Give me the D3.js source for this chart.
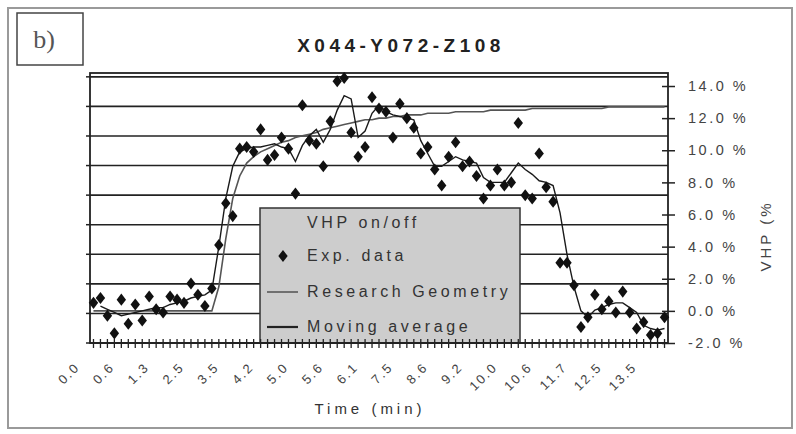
<!DOCTYPE html>
<html>
<head>
<meta charset="utf-8">
<script src="https://cdn.jsdelivr.net/npm/d3@7"></script>
<style>
  body { margin: 0; background: #fff; }
  svg { display: block; font-family: "Liberation Sans", Arial, sans-serif; }
</style>
</head>
<body>
<div id="chart"></div>
<script>
// data, one value per time step (category)
const expData = [0.5, 0.8, -0.3, -1.4, 0.7, -0.8, 0.4, -0.6, 0.9, 0.1,
  -0.1, 0.9, 0.7, 0.5, 1.7, 1.0, 0.3, 1.4, 4.1, 6.7,
  5.9, 10.1, 10.2, 9.9, 11.3, 9.4, 9.7, 10.8, 10.1, 7.3,
  12.8, 10.6, 10.4, 9.0, 11.8, 14.3, 14.5, 11.1, 9.6, 10.2,
  13.3, 12.6, 12.4, 10.8, 12.9, 12.0, 11.4, 9.8, 10.2, 8.8,
  7.8, 9.6, 10.5, 9.0, 9.3, 8.4, 7.0, 7.8, 8.8, 7.8,
  8.0, 11.7, 7.2, 7.0, 9.8, 7.7, 6.8, 3.0, 3.0, 1.6,
  -1.0, -0.4, 1.0, 0.1, 0.6, -0.1, 1.2, -0.1, -1.1, -0.7,
  -1.5, -1.4, -0.4];

const movingAvg = [null, 0.3, 0.1, -0.1, -0.3, -0.2, -0.1, 0.0, 0.1, 0.2,
  0.2, 0.4, 0.5, 0.6, 0.8, 0.9, 1.0, 1.3, 4.0, 7.0,
  9.0, 9.9, 10.1, 10.2, 10.2, 10.3, 10.4, 10.2, 10.1, 9.3,
  10.3, 10.9, 11.3, 10.5, 11.3, 12.5, 13.4, 13.2, 10.8, 11.2,
  12.3, 12.8, 12.4, 12.2, 12.1, 12.0, 11.9, 10.6, 9.8, 9.0,
  9.0, 9.3, 9.6, 9.4, 9.3, 9.2, 8.3, 8.0, 8.0, 8.0,
  8.6, 9.2, 8.8, 8.5, 8.1, 8.0, 7.8, 6.1, 3.5, 1.5,
  0.0, -0.4, 0.05, 0.2, 0.4, 0.5, 0.5, 0.2, -0.1, -0.9,
  -1.1, -1.2, -1.1];

const researchGeom = [0, 0, 0, 0, 0, 0, 0, 0, 0, 0,
  0, 0, 0, 0, 0, 0, 0, 0, 1.5, 4.5,
  7.0, 8.4, 9.2, 9.6, 9.9, 10.1, 10.3, 10.5, 10.6, 10.8,
  10.9, 11.0, 11.1, 11.3, 11.4, 11.5, 11.6, 11.7, 11.8, 11.9,
  11.9, 12.0, 12.0, 12.1, 12.1, 12.2, 12.2, 12.2, 12.3, 12.3,
  12.3, 12.3, 12.4, 12.4, 12.4, 12.4, 12.4, 12.5, 12.5, 12.5,
  12.5, 12.5, 12.5, 12.6, 12.6, 12.6, 12.6, 12.6, 12.6, 12.6,
  12.6, 12.6, 12.6, 12.6, 12.7, 12.7, 12.7, 12.7, 12.7, 12.7,
  12.7, 12.7, 12.7];

// every 5th category carries a time label
const timeLabels = ["0.0", "0.6", "1.3", "2.5", "3.5", "4.2", "5.0", "5.6", "6.1",
  "7.5", "8.6", "9.2", "10.0", "10.6", "11.7", "12.5", "13.5"];
const labelStep = 5;

const rightTicks = [-2, 0, 2, 4, 6, 8, 10, 12, 14];
const leftTicks = [0, 1, 2, 3, 4, 5, 6, 7, 8, 9];   // hidden primary axis, gridlines only

const legendItems = ["VHP on/off", "Exp. data", "Research Geometry", "Moving average"];

const W = 796, H = 434;
const plot = { left: 90, right: 668, top: 73, bottom: 343 };

const svg = d3.select("#chart").append("svg")
  .attr("width", W)
  .attr("height", H);

// outer frame
svg.append("rect")
  .attr("x", 8).attr("y", 8)
  .attr("width", 784).attr("height", 420)
  .attr("fill", "#fff")
  .attr("stroke", "#9a9a9a")
  .attr("stroke-width", 2);

// "b)" box
svg.append("rect")
  .attr("x", 17).attr("y", 13)
  .attr("width", 66).attr("height", 52)
  .attr("fill", "#fff")
  .attr("stroke", "#444")
  .attr("stroke-width", 1.5);
svg.append("text")
  .attr("x", 44).attr("y", 48)
  .attr("text-anchor", "middle")
  .attr("font-family", "'Liberation Serif', 'DejaVu Serif', serif")
  .attr("font-size", 26)
  .attr("fill", "#555")
  .text("b)");

// title
svg.append("text")
  .attr("x", 401).attr("y", 52)
  .attr("text-anchor", "middle")
  .attr("font-size", 19)
  .attr("font-weight", "bold")
  .attr("letter-spacing", 4.5)
  .attr("fill", "#222")
  .text("X044-Y072-Z108");

const categories = d3.range(expData.length);

const x = d3.scaleBand()
  .domain(categories)
  .range([plot.left, plot.right])
  .padding(0);
const cx = i => x(i) + x.bandwidth() / 2;

const yL = d3.scaleLinear()
  .domain([0, 9.13])
  .range([plot.bottom, plot.top]);

const yR = d3.scaleLinear()
  .domain([-2, 14.81])
  .range([plot.bottom, plot.top]);

// gridlines from the primary (left) axis
svg.append("g")
  .selectAll("line")
  .data(leftTicks)
  .enter().append("line")
  .attr("x1", plot.left).attr("x2", plot.right)
  .attr("y1", d => yL(d)).attr("y2", d => yL(d))
  .attr("stroke", "#222")
  .attr("stroke-width", 1.6);

// left axis tick marks
svg.append("g")
  .selectAll("line")
  .data(leftTicks)
  .enter().append("line")
  .attr("x1", plot.left - 4).attr("x2", plot.left)
  .attr("y1", d => yL(d)).attr("y2", d => yL(d))
  .attr("stroke", "#222")
  .attr("stroke-width", 1.5);

// legend box (sits inside plot area, lines/markers drawn over it)
const lg = { x: 260, y: 208, w: 260, h: plot.bottom - 208 };
svg.append("rect")
  .attr("x", lg.x).attr("y", lg.y)
  .attr("width", lg.w).attr("height", lg.h)
  .attr("fill", "#cdcdcd")
  .attr("stroke", "#333")
  .attr("stroke-width", 1.5);

// plot frame
svg.append("rect")
  .attr("x", plot.left).attr("y", plot.top)
  .attr("width", plot.right - plot.left).attr("height", plot.bottom - plot.top)
  .attr("fill", "none")
  .attr("stroke", "#222")
  .attr("stroke-width", 1.8);

// research geometry line
svg.append("path")
  .datum(researchGeom)
  .attr("fill", "none")
  .attr("stroke", "#555")
  .attr("stroke-width", 1.6)
  .attr("d", d3.line()
    .x((d, i) => cx(i))
    .y(d => yR(d)));

// moving average line
svg.append("path")
  .datum(movingAvg)
  .attr("fill", "none")
  .attr("stroke", "#1a1a1a")
  .attr("stroke-width", 1.4)
  .attr("d", d3.line()
    .defined(d => d !== null)
    .x((d, i) => cx(i))
    .y(d => yR(d)));

// experimental points
const diamond = d3.symbol().type(d3.symbolDiamond).size(42);
svg.append("g")
  .selectAll("path")
  .data(expData)
  .enter().append("path")
  .attr("transform", (d, i) => `translate(${cx(i)},${yR(d)}) scale(1.35,1)`)
  .attr("d", diamond)
  .attr("fill", "#111");

// x axis line and a small tick for every category crossing it
svg.append("line")
  .attr("x1", plot.left).attr("x2", plot.right)
  .attr("y1", plot.bottom).attr("y2", plot.bottom)
  .attr("stroke", "#222")
  .attr("stroke-width", 1.8);
svg.append("g")
  .selectAll("line")
  .data(categories)
  .enter().append("line")
  .attr("x1", d => cx(d)).attr("x2", d => cx(d))
  .attr("y1", plot.bottom - 4).attr("y2", plot.bottom + 5)
  .attr("stroke", "#222")
  .attr("stroke-width", 1.3);

// rotated time labels
svg.append("g")
  .selectAll("text")
  .data(timeLabels)
  .enter().append("text")
  .attr("transform", (d, k) => `translate(${cx(k * labelStep) - 13},${plot.bottom + 25}) rotate(-45)`)
  .attr("text-anchor", "end")
  .attr("font-size", 13)
  .attr("letter-spacing", 2)
  .attr("fill", "#444")
  .text(d => d);

svg.append("text")
  .attr("x", 370).attr("y", 414)
  .attr("text-anchor", "middle")
  .attr("font-size", 15)
  .attr("letter-spacing", 4)
  .attr("fill", "#333")
  .text("Time (min)");

// right (secondary) axis
const rAxis = svg.append("g")
  .attr("transform", `translate(${plot.right},0)`)
  .call(d3.axisRight(yR)
    .tickValues(rightTicks)
    .tickSize(7)
    .tickPadding(13)
    .tickFormat(d => d.toFixed(1) + " %"));
rAxis.select(".domain").remove();
rAxis.selectAll(".tick line")
  .attr("x1", -6)
  .attr("stroke", "#222")
  .attr("stroke-width", 1.5);
rAxis.selectAll(".tick text")
  .attr("font-size", 14.5)
  .attr("letter-spacing", 2.5)
  .attr("fill", "#444");

svg.append("text")
  .attr("transform", "translate(771,236) rotate(-90)")
  .attr("text-anchor", "middle")
  .attr("font-size", 15)
  .attr("letter-spacing", 3)
  .attr("fill", "#444")
  .text("VHP (%");

// legend contents
const legendY = [228, 261, 297, 332];
svg.append("g")
  .selectAll("text")
  .data(legendItems)
  .enter().append("text")
  .attr("x", 307)
  .attr("y", (d, i) => legendY[i])
  .attr("font-size", 16)
  .attr("letter-spacing", 3.6)
  .attr("fill", "#333")
  .text(d => d);

svg.append("path")
  .attr("transform", `translate(283,${legendY[1] - 5}) scale(1.35,1)`)
  .attr("d", diamond)
  .attr("fill", "#111");
svg.append("line")
  .attr("x1", 267).attr("x2", 298)
  .attr("y1", legendY[2] - 5).attr("y2", legendY[2] - 5)
  .attr("stroke", "#333").attr("stroke-width", 1.2);
svg.append("line")
  .attr("x1", 267).attr("x2", 298)
  .attr("y1", legendY[3] - 5).attr("y2", legendY[3] - 5)
  .attr("stroke", "#222").attr("stroke-width", 2.2);
</script>
</body>
</html>
